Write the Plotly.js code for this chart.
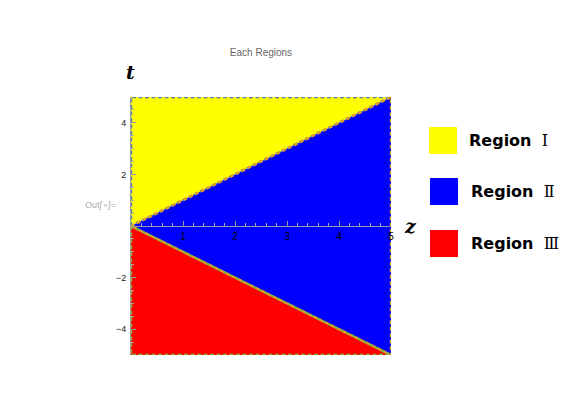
<!DOCTYPE html>
<html>
<head>
<meta charset="utf-8">
<script src="https://cdn.plot.ly/plotly-3.0.1.min.js"></script>
<style>
  html, body { margin: 0; padding: 0; background: #fff; }
  #chart { width: 581px; height: 411px; }
</style>
</head>
<body>
<div id="chart"></div>
<script>
// region polygons (z, t vertices)
var regionNames = ['Region Ⅰ', 'Region Ⅱ', 'Region Ⅲ'];
var numerals = ['Ⅰ', 'Ⅱ', 'Ⅲ'];
var regionZ = [[0, 0, 5, 0], [0, 5, 5, 0], [0, 0, 5, 0]];
var regionT = [[0, 5, 5, 0], [0, 5, -5, 0], [0, -5, -5, 0]];
var fillColors = ['#ffff00', '#0000ff', '#ff0000'];
var edgeColors = ['#5e81b5', '#e19c24', '#8fb032'];

var xTicks = [1, 2, 3, 4, 5];
var yTicks = [-4, -2, 2, 4];

// plot box in pixels
var L = 131, R = 391, T = 97, B = 355, W = 581, H = 411;
function px(x) { return (x - L) / (R - L); }
function py(y) { return (B - y) / (B - T); }

var data = [];
// fills first
for (var i = 0; i < 3; i++) {
  data.push({
    x: regionZ[i], y: regionT[i], type: 'scatter', mode: 'lines',
    fill: 'toself', fillcolor: fillColors[i],
    line: {width: 0, color: fillColors[i]},
    name: regionNames[i], hoverinfo: 'skip', showlegend: false
  });
}
// dashed outlines on top
for (var j = 0; j < 3; j++) {
  data.push({
    x: regionZ[j], y: regionT[j], type: 'scatter', mode: 'lines',
    line: {width: 2.4, color: edgeColors[j], dash: '4px,2.5px'},
    hoverinfo: 'skip', showlegend: false, cliponaxis: false
  });
}

var shapes = [];
var annotations = [];
var swatchTop = [127, 178, 230];
for (var k = 0; k < 3; k++) {
  var x0 = 429 + (k > 0 ? 1 : 0);
  shapes.push({
    type: 'rect', xref: 'paper', yref: 'paper',
    x0: px(x0), x1: px(x0 + 28), y0: py(swatchTop[k]), y1: py(swatchTop[k] + 27),
    fillcolor: fillColors[k], line: {width: 0}
  });
  annotations.push({
    xref: 'paper', yref: 'paper', x: px(467 + (k > 0 ? 2 : 0)), y: py(swatchTop[k] + 13.5),
    xanchor: 'left', yanchor: 'middle', showarrow: false,
    text: '<b>Region</b>  <span style="font-family:\'DejaVu Serif\';font-weight:normal">' + numerals[k] + '</span>',
    font: {family: 'DejaVu Sans', size: 16, color: '#000'}
  });
}
// axis labels
annotations.push({
  xref: 'paper', yref: 'paper', x: px(130), y: py(72), xanchor: 'center', yanchor: 'middle',
  showarrow: false,
  text: '<b><i>t</i></b>', font: {family: 'DejaVu Serif', size: 19, color: '#000'}
});
annotations.push({
  xref: 'paper', yref: 'paper', x: px(410), y: py(226), xanchor: 'center', yanchor: 'middle',
  showarrow: false,
  text: '<b><i>z</i></b>', font: {family: 'DejaVu Serif', size: 19, color: '#000'}
});
annotations.push({
  xref: 'paper', yref: 'paper', x: px(100), y: py(205), xanchor: 'center', yanchor: 'middle',
  showarrow: false,
  text: '<i>Out[∘]=</i>', font: {family: 'Liberation Sans', size: 9, color: '#aaa'}
});

var layout = {
  width: W, height: H,
  margin: {l: L, r: W - R, t: T, b: H - B, pad: 0},
  paper_bgcolor: '#fff', plot_bgcolor: '#fff',
  showlegend: false,
  title: {
    text: 'Each Regions', x: px(261), xref: 'paper', y: 1 - 52 / H, yanchor: 'middle',
    font: {family: 'Liberation Sans', size: 10, color: '#666'}
  },
  xaxis: {
    range: [0, 5], anchor: 'free', position: 0.5,
    showgrid: false, zeroline: false,
    showline: true, linecolor: '#999', linewidth: 1,
    tickvals: xTicks, ticks: 'inside', ticklen: 5, tickcolor: '#999',
    minor: {dtick: 0.2, ticks: 'inside', ticklen: 3, tickcolor: '#aaa'},
    tickfont: {family: 'Liberation Sans', size: 10, color: '#000'},
    ticklabelstandoff: 1,
    fixedrange: true
  },
  yaxis: {
    range: [-5, 5],
    showgrid: false, zeroline: false,
    showline: true, linecolor: '#999', linewidth: 1,
    tickvals: yTicks, ticks: 'inside', ticklen: 5, tickcolor: '#999',
    minor: {dtick: 0.5, ticks: 'inside', ticklen: 3, tickcolor: '#aaa'},
    tickfont: {family: 'Liberation Sans', size: 9, color: '#222'},
    ticklabelstandoff: 2,
    fixedrange: true
  },
  shapes: shapes,
  annotations: annotations
};

Plotly.newPlot('chart', data, layout, {displayModeBar: false, staticPlot: true});
</script>
</body>
</html>
